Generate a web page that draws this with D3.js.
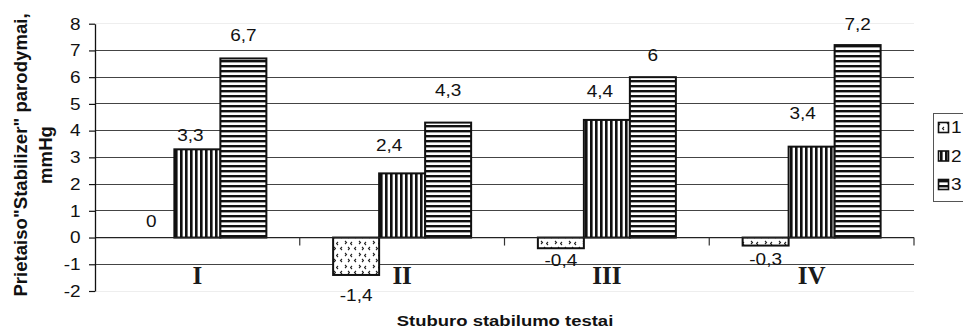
<!DOCTYPE html>
<html>
<head>
<meta charset="utf-8">
<script src="https://cdn.jsdelivr.net/npm/d3@7"></script>
<style>
  html, body { margin: 0; padding: 0; background: #fff; }
  svg { display: block; }
</style>
</head>
<body>
<svg id="chart" width="963" height="330"></svg>
<script>
// Category groups (test number) and the three measured series
const categories = ["I", "II", "III", "IV"];
const seriesNames = ["1", "2", "3"];
const series1 = [0, -1.4, -0.4, -0.3];
const series2 = [3.3, 2.4, 4.4, 3.4];
const series3 = [6.7, 4.3, 6, 7.2];
const yTickValues = [-2, -1, 0, 1, 2, 3, 4, 5, 6, 7, 8];

const yTitleLines = ["Prietaiso\"Stabilizer\" parodymai,", "mmHg"];
const xTitle = "Stuburo stabilumo testai";

// value-label placement: distance from the bar end to the label baseline, and sideways nudge
const labelGap = [[11, 26, 18, 19], [8, 22, 23, 28], [17, 27, 16, 15]];
const labelShift = [[0, 0, 0, 0], [-7, -13, -7, -9], [0, 0, 0, 0]];

const seriesValues = [series1, series2, series3];

const svg = d3.select("#chart");
const plot = { left: 95, right: 914, top: 23.7, bottom: 291 };
const sans = "'Liberation Sans', Arial, Helvetica, sans-serif";
const serif = "'Liberation Serif', 'Times New Roman', serif";
const stretch = 1.2;

const y = d3.scaleLinear().domain([-2, 8]).range([plot.bottom, plot.top]);
const x0 = d3.scaleBand().domain(categories).range([plot.left, plot.right]).paddingInner(0).paddingOuter(0);
const groupFrac = 0.674;
const x1 = d3.scaleBand().domain(seriesNames)
  .range([x0.bandwidth() * (1 - groupFrac) / 2, x0.bandwidth() * (1 + groupFrac) / 2]);

const fmt = v => String(v).replace(".", ",");

// ---------- fill patterns ----------
const defs = svg.append("defs");
// confetti of small chevrons
const pDots = defs.append("pattern").attr("id", "pat1").attr("patternUnits", "userSpaceOnUse")
  .attr("width", 14).attr("height", 12);
pDots.append("rect").attr("width", 14).attr("height", 12).attr("fill", "#fff");
["M2,2 l-1.5,1.5 l1.5,1.5", "M9,1 l1.5,1.5 l-1.5,1.5",
 "M6,7 l-1.5,1.5 l1.5,1.5", "M12,7 l1.5,1.5 l-1.5,1.5"].forEach(d => {
  pDots.append("path").attr("d", d).attr("fill", "none").attr("stroke", "#222").attr("stroke-width", 1.1);
});
// vertical stripes
const pV = defs.append("pattern").attr("id", "pat2").attr("patternUnits", "userSpaceOnUse")
  .attr("width", 5).attr("height", 5);
pV.append("rect").attr("width", 5).attr("height", 5).attr("fill", "#fff");
pV.append("rect").attr("width", 2.6).attr("height", 5).attr("fill", "#111");
// horizontal stripes
const pH = defs.append("pattern").attr("id", "pat3").attr("patternUnits", "userSpaceOnUse")
  .attr("width", 5).attr("height", 5);
pH.append("rect").attr("width", 5).attr("height", 5).attr("fill", "#fff");
pH.append("rect").attr("width", 5).attr("height", 2.4).attr("fill", "#111");
const fills = ["url(#pat1)", "url(#pat2)", "url(#pat3)"];

// text helper: places horizontal text with the slightly wide letterforms of the chart
function wideText(g, x, yPos, str, size, anchor, weight) {
  return g.append("text")
    .attr("transform", `translate(${x},${yPos}) scale(${stretch},1)`)
    .attr("text-anchor", anchor)
    .attr("font-family", sans)
    .attr("font-size", size)
    .attr("font-weight", weight || "normal")
    .attr("fill", "#111")
    .text(str);
}

// ---------- gridlines ----------
const grid = svg.append("g");
grid.selectAll("line").data(yTickValues).join("line")
  .attr("x1", plot.left).attr("x2", plot.right)
  .attr("y1", d => y(d)).attr("y2", d => y(d))
  .attr("stroke", d => (d === 8 || d === -2) ? "#eeeeee" : "#444")
  .attr("stroke-width", 1)
  .attr("shape-rendering", "crispEdges");

// ---------- bars ----------
const barData = [];
seriesValues.forEach((vals, si) => {
  vals.forEach((v, ci) => barData.push({ si, ci, v, cat: categories[ci], s: seriesNames[si] }));
});

svg.append("g").selectAll("rect").data(barData.filter(d => d.v !== 0)).join("rect")
  .attr("x", d => x0(d.cat) + x1(d.s))
  .attr("y", d => y(Math.max(0, d.v)))
  .attr("width", x1.bandwidth())
  .attr("height", d => Math.abs(y(d.v) - y(0)))
  .attr("fill", d => fills[d.si])
  .attr("stroke", "#111")
  .attr("stroke-width", 2);

// ---------- zero line with category separators ----------
const zero = svg.append("g");
zero.append("line").attr("x1", plot.left).attr("x2", plot.right)
  .attr("y1", y(0)).attr("y2", y(0)).attr("stroke", "#222").attr("stroke-width", 1.3);
const boundaries = categories.map(c => x0(c)).concat([x0.range()[1]]);
zero.selectAll("line.sep").data(boundaries.slice(1)).join("line").attr("class", "sep")
  .attr("x1", d => d).attr("x2", d => d)
  .attr("y1", y(0)).attr("y2", y(0) + 8)
  .attr("stroke", "#333").attr("stroke-width", 1.2);

// ---------- y axis ----------
const yAxisG = svg.append("g").attr("transform", `translate(${plot.left},0)`)
  .call(d3.axisLeft(y).tickValues(yTickValues).tickSize(6).tickSizeOuter(0).tickFormat(""));
yAxisG.select(".domain").attr("stroke", "#111").attr("stroke-width", 1.3);
yAxisG.selectAll(".tick line").attr("stroke", "#111").attr("stroke-width", 1.2);
const yLabels = svg.append("g");
yTickValues.forEach(t => wideText(yLabels, 80.5, y(t) + 5.8, fmt(t), 15.8, "end"));

// ---------- category labels ----------
svg.append("g").selectAll("text").data(categories).join("text")
  .attr("x", d => x0(d) + x0.bandwidth() / 2)
  .attr("y", 284)
  .attr("text-anchor", "middle")
  .attr("font-family", serif)
  .attr("font-weight", "bold")
  .attr("font-size", 25)
  .attr("fill", "#1a1a1a")
  .text(d => d);

// ---------- value labels ----------
const valG = svg.append("g");
barData.forEach(d => {
  const cx = x0(d.cat) + x1(d.s) + x1.bandwidth() / 2 + labelShift[d.si][d.ci];
  const gap = labelGap[d.si][d.ci];
  const base = d.v < 0 ? y(d.v) + gap : y(d.v) - gap;
  wideText(valG, cx, base, fmt(d.v), 15.8, "middle");
});

// ---------- axis titles ----------
const yt = svg.append("text")
  .attr("transform", "translate(0,155) rotate(-90)")
  .attr("text-anchor", "middle")
  .attr("font-family", sans)
  .attr("font-weight", "bold")
  .attr("font-size", 18.6)
  .attr("fill", "#111");
yt.append("tspan").attr("x", 0).attr("y", 27).text(yTitleLines[0]);
yt.append("tspan").attr("x", 0).attr("y", 51.5).text(yTitleLines[1]);

wideText(svg, 505, 326, xTitle, 15.4, "middle", "bold");

// ---------- legend ----------
const leg = svg.append("g");
leg.append("rect").attr("x", 933.5).attr("y", 113.5).attr("width", 60).attr("height", 88)
  .attr("fill", "#fff").attr("stroke", "#555").attr("stroke-width", 1);
const legY = d3.scalePoint().domain(seriesNames).range([127.5, 184.5]);
seriesNames.forEach((s, i) => {
  leg.append("rect").attr("x", 938.5).attr("y", legY(s) - 5).attr("width", 10).attr("height", 10)
    .attr("fill", fills[i]).attr("stroke", "#111").attr("stroke-width", 1.6);
  wideText(leg, 951, legY(s) + 5.8, s, 15.8, "start");
});
</script>
</body>
</html>
